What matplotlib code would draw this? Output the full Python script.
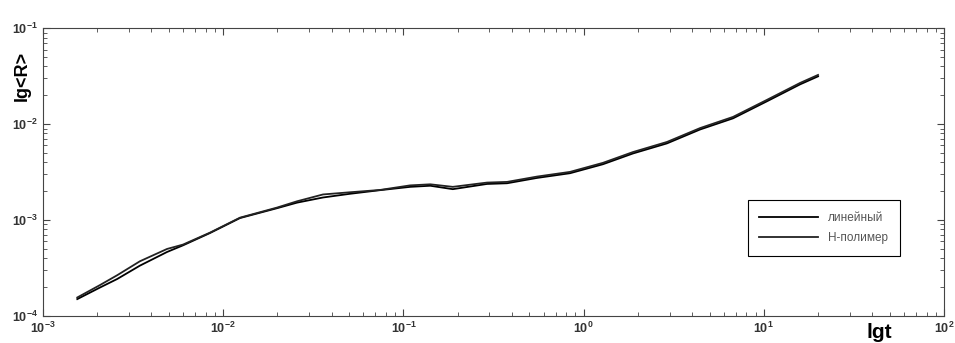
import matplotlib.pyplot as plt
from matplotlib.ticker import LogLocator, NullFormatter

# values (t, <R>)
t = [0.00155, 0.00207, 0.00258, 0.00345, 0.00488, 0.00598, 0.00845, 0.0124,
     0.0199, 0.0257, 0.0358, 0.0506, 0.0741, 0.109, 0.141, 0.188, 0.291,
     0.376, 0.551, 0.841, 1.28, 1.88, 2.90, 4.43, 6.75, 10.4, 15.9, 20.0]
r_linear = [1.50e-4, 1.98e-4, 2.43e-4, 3.35e-4, 4.65e-4, 5.45e-4, 7.33e-4, 1.05e-3,
            1.33e-3, 1.52e-3, 1.72e-3, 1.88e-3, 2.05e-3, 2.22e-3, 2.28e-3, 2.10e-3,
            2.38e-3, 2.42e-3, 2.75e-3, 3.08e-3, 3.82e-3, 4.95e-3, 6.30e-3, 8.80e-3,
            1.15e-2, 1.73e-2, 2.60e-2, 3.15e-2]
r_hpolymer = [1.56e-4, 2.10e-4, 2.66e-4, 3.72e-4, 5.00e-4, 5.55e-4, 7.40e-4, 1.06e-3,
              1.35e-3, 1.57e-3, 1.85e-3, 1.95e-3, 2.06e-3, 2.30e-3, 2.36e-3, 2.22e-3,
              2.46e-3, 2.50e-3, 2.84e-3, 3.18e-3, 3.95e-3, 5.12e-3, 6.52e-3, 9.10e-3,
              1.19e-2, 1.79e-2, 2.69e-2, 3.26e-2]
labels = ['линейный', 'Н-полимер']

plt.rcParams['font.family'] = ['Liberation Sans', 'DejaVu Sans']

fig = plt.figure(figsize=(9.55, 3.43), dpi=100)
ax = fig.add_axes([0.045, 0.0787, 0.9435, 0.839])

ax.plot(t, r_linear, color='black', lw=1.3, label=labels[0])
ax.plot(t, r_hpolymer, color='#222222', lw=1.3, label=labels[1])

ax.set_xscale('log')
ax.set_yscale('log')
ax.set_xlim([1e-3, 1e2])
ax.set_ylim([1e-4, 1e-1])

ax.xaxis.set_minor_locator(LogLocator(base=10, subs=range(2, 10)))
ax.yaxis.set_minor_locator(LogLocator(base=10, subs=range(2, 10)))
ax.xaxis.set_minor_formatter(NullFormatter())
ax.yaxis.set_minor_formatter(NullFormatter())
ax.tick_params(which='both', direction='in', top=True, right=True, color='#444444')
ax.tick_params(which='major', length=5, labelsize=9, labelcolor='#333333')
ax.tick_params(which='minor', length=3)
for lab in ax.get_xticklabels() + ax.get_yticklabels():
    lab.set_fontweight('bold')
for s in ax.spines.values():
    s.set_color('#444444')

fig.text(0.023, 0.78, 'lg<R>', rotation=90, fontsize=13, fontweight='bold',
         ha='center', va='center')
fig.text(0.921, 0.03, 'lgt', fontsize=15, fontweight='bold', ha='center', va='center')

leg = ax.legend(loc='upper left', bbox_to_anchor=(0.782, 0.403), fancybox=False,
                edgecolor='black', framealpha=1, fontsize=8.5, borderaxespad=0,
                handlelength=5.0, borderpad=1.0, labelspacing=0.7, handletextpad=0.8)
leg.get_frame().set_linewidth(0.8)
for txt in leg.get_texts():
    txt.set_color('#555555')

fig.savefig('out.png', dpi=100)
